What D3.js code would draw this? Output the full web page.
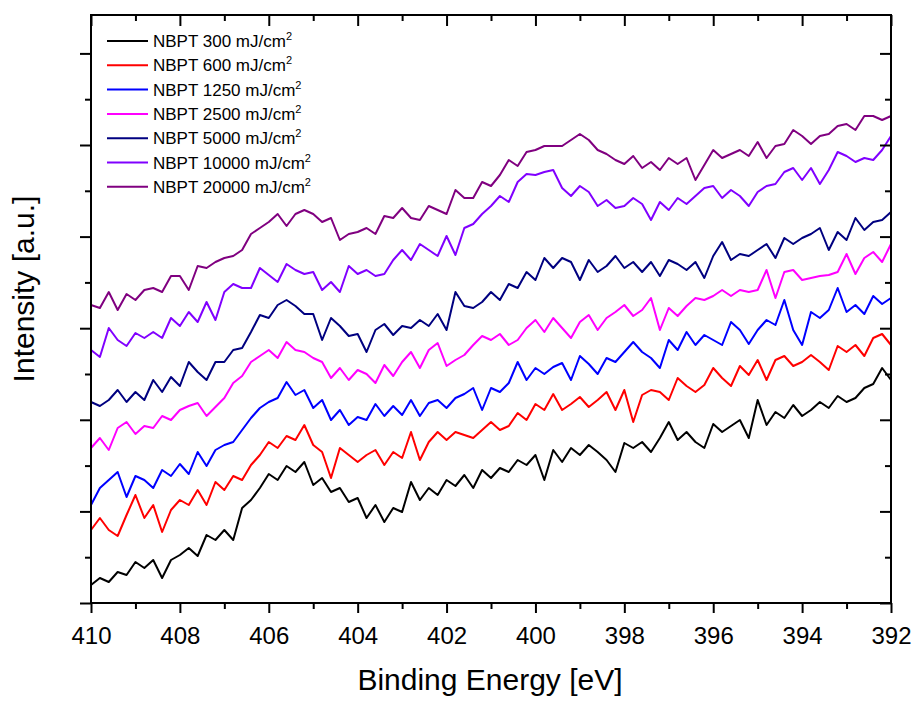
<!DOCTYPE html>
<html lang="en">
<head>
    <meta charset="UTF-8">
    <title>NBPT Binding Energy</title>
    <style>
        body { margin: 0; background: #fff; }
        svg { display: block; font-family: "Liberation Sans", Arial, sans-serif; }
    </style>
</head>
<body>
    <svg id="chart" width="916" height="701"></svg>

    <script src="https://cdnjs.cloudflare.com/ajax/libs/d3/7.8.5/d3.min.js"></script>
    <script>
        // energy grid: 410 eV down to 392 eV, 0.2 eV per point
        const E_START = 410;
        const E_STEP = 0.2;
        const N_POINTS = 91;

        // intensities (a.u.), one per 0.2 eV
        const nbpt300 = [
            18,25,21,31,28,41,35,43,25,43,
            48,55,47,68,63,73,63,95,103,115,
            129,123,137,131,141,118,125,111,115,101,
            105,85,98,81,95,91,121,103,115,108,
            123,117,128,115,133,125,135,131,143,138,
            148,123,153,141,155,148,158,151,143,131,
            160,155,161,151,165,181,163,171,161,155,
            179,171,177,183,165,203,178,191,185,198,
            187,193,201,195,207,201,205,215,219,235,
            223
        ];
        const nbpt600 = [
            73,85,73,67,88,108,85,98,71,93,
            103,98,113,98,121,113,127,123,138,148,
            161,155,167,163,178,158,151,125,155,148,
            141,148,153,138,151,145,171,143,161,171,
            163,171,168,165,173,181,173,177,190,183,
            199,193,209,193,199,206,196,203,211,193,
            213,181,208,213,211,203,225,217,211,218,
            235,225,217,237,228,243,223,243,247,237,
            241,248,241,233,257,251,258,247,265,269,
            258
        ];
        const nbpt1250 = [
            98,115,123,131,106,127,123,115,133,127,
            139,129,151,137,153,158,161,173,185,195,
            201,205,221,208,213,195,203,183,193,178,
            186,183,199,187,197,188,203,187,200,203,
            195,205,209,215,193,215,211,220,241,223,
            235,229,236,240,223,247,239,229,245,241,
            251,261,251,245,235,263,253,271,258,268,
            263,258,281,273,259,273,283,278,303,273,
            258,291,285,293,315,291,298,289,307,299,
            305
        ];
        const nbpt2500 = [
            155,165,153,175,181,169,177,175,187,183,
            193,197,200,187,196,205,220,227,241,247,
            253,245,261,253,251,245,241,225,235,223,
            233,229,220,238,227,241,251,235,253,260,
            237,243,248,258,267,263,269,258,263,275,
            283,271,285,275,265,281,288,273,285,291,
            298,287,293,305,273,295,287,297,305,303,
            307,313,307,313,311,313,333,305,331,333,
            323,325,327,328,331,349,329,345,351,341,
            359
        ];
        const nbpt5000 = [
            201,197,203,213,201,211,203,223,211,226,
            217,241,231,223,241,241,253,255,271,288,
            285,298,303,297,289,289,263,285,277,267,
            269,251,273,279,268,277,275,283,277,289,
            273,311,297,295,301,311,303,319,315,331,
            323,345,335,345,341,323,343,331,337,347,
            335,341,331,341,327,343,339,333,341,325,
            347,361,343,349,347,353,359,345,365,359,
            365,369,375,353,371,363,385,373,381,383,
            391
        ];
        const nbpt10000 = [
            253,246,275,263,257,270,265,271,265,285,
            277,291,281,301,283,311,319,315,315,335,
            328,321,339,333,329,331,313,321,311,337,
            329,333,327,329,343,353,343,359,353,347,
            367,348,375,379,389,397,407,401,421,429,
            428,431,433,415,407,417,411,397,403,395,
            397,405,399,383,401,393,405,399,407,415,
            417,405,413,407,397,411,417,419,431,435,
            423,435,419,433,451,447,441,445,443,453,
            467
        ];
        const nbpt20000 = [
            298,295,311,293,309,303,313,315,311,327,
            327,313,337,335,341,345,347,353,369,375,
            381,389,377,389,393,389,381,385,363,369,
            371,375,369,387,385,395,385,383,397,393,
            389,413,405,405,421,417,428,443,437,451,
            453,457,457,457,463,469,463,453,449,443,
            439,447,435,441,433,445,439,445,423,438,
            453,445,449,453,447,461,445,457,459,473,
            467,459,467,469,477,479,473,487,487,483,
            487
        ];

        const seriesNames = ['300', '600', '1250', '2500', '5000', '10000', '20000'];
        const seriesColors = ['#000000', '#ff0000', '#0000ff', '#ff00ff', '#000080', '#8000ff', '#800080'];
        const seriesValues = [nbpt300, nbpt600, nbpt1250, nbpt2500, nbpt5000, nbpt10000, nbpt20000];

        const xMajorTicks = [410, 408, 406, 404, 402, 400, 398, 396, 394, 392];
        const xMinorTicks = [409, 407, 405, 403, 401, 399, 397, 395, 393];
        const Y_MAX = 588;
        const Y_TICK_STEP = 45.8;

        var energy = d3.range(N_POINTS).map(function (i) {
            return +(E_START - i * E_STEP).toFixed(1);
        });

        var svg = d3.select('#chart');
        var margin = { top: 15, right: 25, bottom: 98, left: 91 };
        var width = +svg.attr('width') - margin.left - margin.right;
        var height = +svg.attr('height') - margin.top - margin.bottom;

        var x = d3.scaleLinear().domain([410, 392]).range([0, width]);
        var y = d3.scaleLinear().domain([0, Y_MAX]).range([height, 0]);

        var g = svg.append('g')
                    .attr('transform', 'translate(' + margin.left + ',' + margin.top + ')');

        // data lines
        var line = d3.line()
                    .x(function (d, i) { return x(energy[i]); })
                    .y(function (d) { return y(d); });

        g.selectAll('path.series')
            .data(seriesValues)
            .enter()
            .append('path')
            .attr('class', 'series')
            .attr('d', line)
            .attr('fill', 'none')
            .attr('stroke', function (d, i) { return seriesColors[i]; })
            .attr('stroke-width', 2)
            .attr('stroke-linejoin', 'round');

        // y ticks, major every other one
        var yTicks = d3.range(0, Y_MAX + 1, Y_TICK_STEP);
        var yMajor = yTicks.filter(function (d, i) { return i % 2 === 0; });
        var yMinor = yTicks.filter(function (d, i) { return i % 2 === 1; });

        function styleAxis(sel) {
            sel.select('.domain').remove();
            sel.selectAll('line').attr('stroke', '#000').attr('stroke-width', 2);
            sel.selectAll('text')
                .attr('fill', '#000')
                .style('font-size', '24px')
                .style('font-family', '"Liberation Sans", Arial, sans-serif');
        }

        g.append('g').attr('transform', 'translate(0,' + height + ')')
            .call(d3.axisBottom(x).tickValues(xMajorTicks).tickSize(10).tickPadding(14).tickFormat(d3.format('d')))
            .call(styleAxis);
        g.append('g').attr('transform', 'translate(0,' + height + ')')
            .call(d3.axisBottom(x).tickValues(xMinorTicks).tickSize(6).tickFormat(''))
            .call(styleAxis);
        g.append('g')
            .call(d3.axisTop(x).tickValues(xMajorTicks).tickSize(-11).tickFormat(''))
            .call(styleAxis);
        g.append('g')
            .call(d3.axisTop(x).tickValues(xMinorTicks).tickSize(-6).tickFormat(''))
            .call(styleAxis);

        g.append('g')
            .call(d3.axisLeft(y).tickValues(yMajor).tickSize(11).tickFormat(''))
            .call(styleAxis);
        g.append('g')
            .call(d3.axisLeft(y).tickValues(yMinor).tickSize(6).tickFormat(''))
            .call(styleAxis);
        g.append('g').attr('transform', 'translate(' + width + ',0)')
            .call(d3.axisRight(y).tickValues(yMajor).tickSize(-11).tickFormat(''))
            .call(styleAxis);
        g.append('g').attr('transform', 'translate(' + width + ',0)')
            .call(d3.axisRight(y).tickValues(yMinor).tickSize(-6).tickFormat(''))
            .call(styleAxis);

        // frame
        g.append('rect')
            .attr('width', width)
            .attr('height', height)
            .attr('fill', 'none')
            .attr('stroke', '#000')
            .attr('stroke-width', 2);

        // axis titles
        svg.append('text')
            .attr('x', 490)
            .attr('y', 690)
            .attr('text-anchor', 'middle')
            .style('font-size', '30px')
            .text('Binding Energy [eV]');

        svg.append('text')
            .attr('transform', 'translate(34,289) rotate(-90)')
            .attr('text-anchor', 'middle')
            .style('font-size', '30px')
            .text('Intensity [a.u.]');

        // legend
        const LEGEND_X = 16;
        const LEGEND_Y = 26;
        const LEGEND_ROW = 24.3;
        const LEGEND_LINE = 41;

        var legendRow = g.append('g')
                        .attr('transform', 'translate(' + LEGEND_X + ',' + LEGEND_Y + ')')
                        .selectAll('g')
                        .data(seriesNames)
                        .enter()
                        .append('g')
                        .attr('transform', function (d, i) {
                            return 'translate(0,' + (i * LEGEND_ROW) + ')';
                        });

        legendRow.append('line')
            .attr('x1', 0)
            .attr('x2', LEGEND_LINE)
            .attr('stroke', function (d, i) { return seriesColors[i]; })
            .attr('stroke-width', 2);

        var legendText = legendRow.append('text')
            .attr('x', LEGEND_LINE + 5)
            .attr('y', 6)
            .style('font-size', '17px');
        legendText.append('tspan')
            .text(function (d) { return 'NBPT ' + d + ' mJ/cm'; });
        legendText.append('tspan')
            .attr('dy', -7)
            .style('font-size', '11px')
            .text('2');
    </script>
</body>
</html>
